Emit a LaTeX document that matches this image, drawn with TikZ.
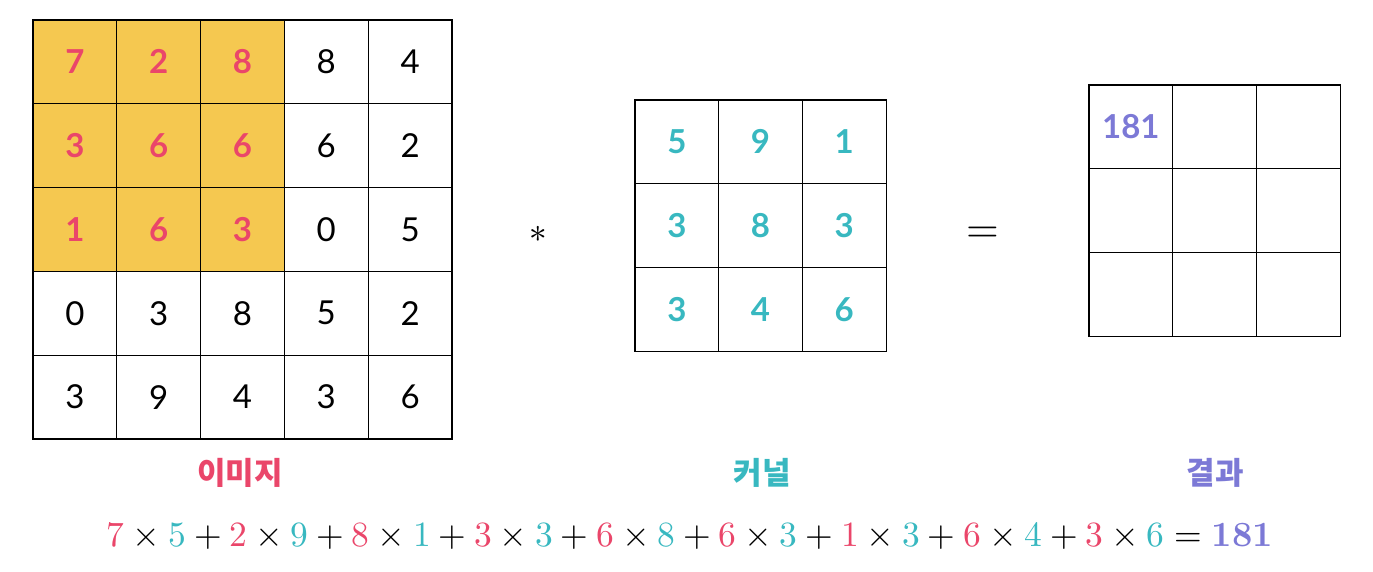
\documentclass[tikz,border=0pt]{standalone}
\usepackage{fontspec}
\usepackage{unicode-math}
\setmainfont{Lato}
\setmathfont{Latin Modern Math}
\newfontfamily\krfont{Noto Sans CJK KR}

\definecolor{imgred}{RGB}{234,70,106}
\definecolor{kerteal}{RGB}{56,184,192}
\definecolor{respurple}{RGB}{124,121,214}
\definecolor{hlyellow}{RGB}{245,200,80}

\newcommand\imgnum[1]{{\color{imgred}#1}}
\newcommand\kernum[1]{{\color{kerteal}#1}}

\tikzset{every picture/.style={line width=1.2pt}}
\tikzset{
  cell/.style={draw, minimum size=83.8pt, inner sep=0pt, font=\fontsize{33}{36}\selectfont},
  hlcell/.style={cell, fill=hlyellow, text=imgred, font=\fontsize{33}{36}\selectfont\bfseries},
  kercell/.style={cell, minimum size=83.7pt, text=kerteal, font=\fontsize{33}{36}\selectfont\bfseries},
  rescell/.style={cell, minimum size=83.7pt, text=respurple, font=\fontsize{33}{36}\selectfont\bfseries},
  labeltext/.style={inner sep=0pt, font=\krfont\bfseries\fontsize{31}{34}\selectfont},
}

\begin{document}
\begin{tikzpicture}[x=1pt,y=1pt,yscale=-1]
\useasboundingbox (0,0) rectangle (1373,572);

%image 5x5, window 3x3 highlighted
\foreach \row [count=\i] in {{7,2,8,8,4},{3,6,6,6,2},{1,6,3,0,5},{0,3,8,5,2},{3,9,4,3,6}}
  \foreach \v [count=\j] in \row {
    \pgfmathtruncatemacro\hl{(\i<4)&&(\j<4)}
    \ifnum\hl=1 \tikzset{cellkind/.style={hlcell}}\else\tikzset{cellkind/.style={cell}}\fi
    \node[cellkind] (img-\i-\j) at ({33+83.8*(\j-0.5)},{20+83.8*(\i-0.5)}) {\v};
  }

%kernel 3x3
\foreach \row [count=\i] in {{5,9,1},{3,8,3},{3,4,6}}
  \foreach \v [count=\j] in \row
    \node[kercell] (ker-\i-\j) at ({635+83.7*(\j-0.5)},{100+83.7*(\i-0.5)}) {\v};

%result 3x3
\foreach \i in {1,2,3}
  \foreach \j in {1,2,3}
    \node[rescell] (res-\i-\j) at ({1089+83.7*(\j-0.5)},{85+83.7*(\i-0.5)}) {};
\node[text=respurple, font=\fontsize{33}{36}\selectfont\bfseries] (resval) at (res-1-1) {181};

%operators
\node[inner sep=0pt, font=\fontsize{35}{38}\selectfont] (opstar) at (538,234) {$\ast$};
\node[inner sep=0pt, font=\fontsize{42}{44}\selectfont] (opeq) at (983,235) {$=$};

%labels
\node[labeltext, text=imgred] (imgname) at (240,473) {이미지};
\node[labeltext, text=kerteal] (kername) at (762,473) {커널};
\node[labeltext, text=respurple] (resname) at (1215,473) {결과};

%sum
\node[inner sep=0pt, font=\fontsize{35.5}{40}\selectfont] (sumeq) at (690,536)
  {$\imgnum7\times\kernum5+\imgnum2\times\kernum9+\imgnum8\times\kernum1+\imgnum3\times\kernum3+\imgnum6\times\kernum8+\imgnum6\times\kernum3+\imgnum1\times\kernum3+\imgnum6\times\kernum4+\imgnum3\times\kernum6=\symbf{\color{respurple}181}$};

\end{tikzpicture}
\end{document}
